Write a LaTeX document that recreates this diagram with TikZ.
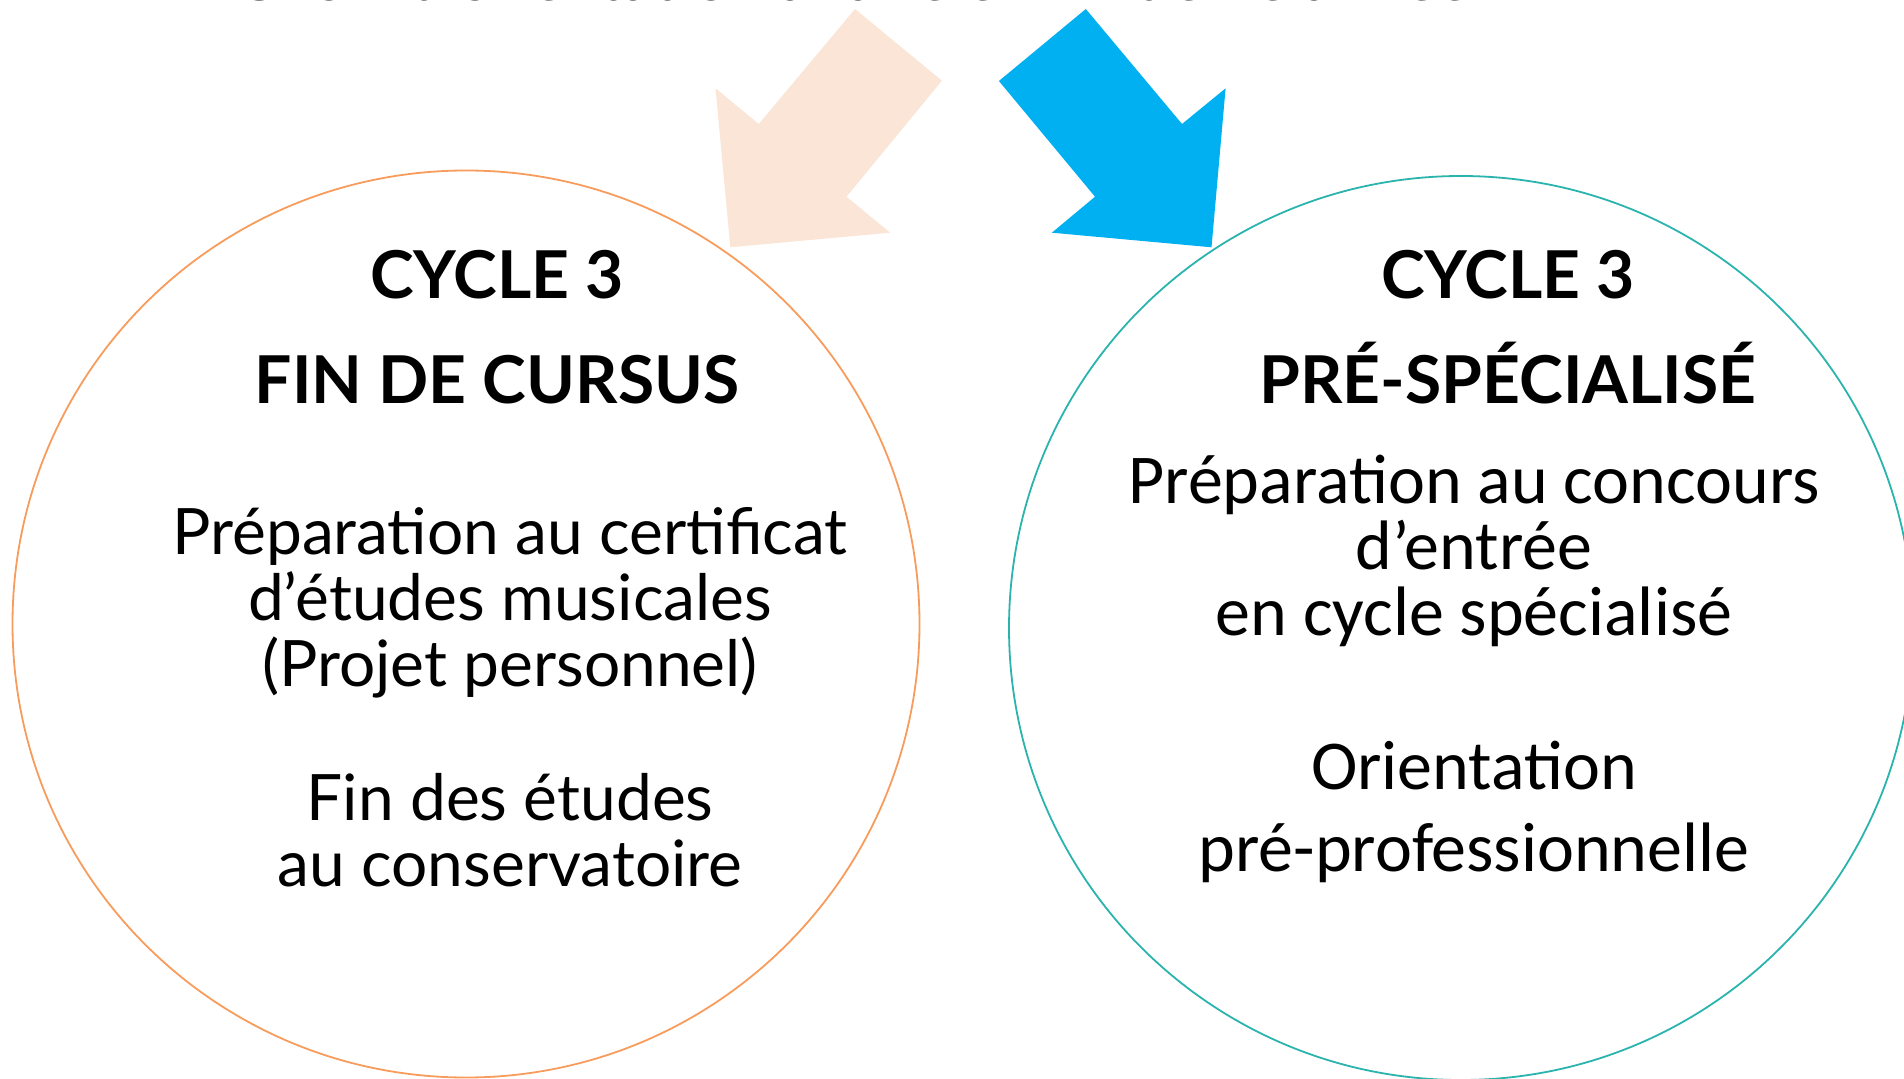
\documentclass[tikz,border=0pt]{standalone}
\usepackage{fontspec}
\setmainfont{Carlito}
\newfontfamily\twfont{Lato}
\definecolor{peach}{HTML}{FBE5D6}
\definecolor{skyblue}{HTML}{00B0F0}
\definecolor{ringorange}{HTML}{F79C5C}
\definecolor{ringteal}{HTML}{2BB3AE}
\begin{document}
\begin{tikzpicture}[x=0.5pt,y=-0.5pt]
		\tikzstyle{ring}=[circle,draw,line width=0.9pt,inner sep=0pt]
		\tikzstyle{head}=[anchor=base,font=\twfont\bfseries\fontsize{33}{33}\selectfont]
		\tikzstyle{lefttxt}=[anchor=base,align=center,font=\twfont\fontsize{32}{33}\selectfont]
		\tikzstyle{righttxt}=[anchor=base,align=center,font=\fontsize{35}{33}\selectfont]
		\useasboundingbox (0,0) rectangle (1904,1079);
		% title, cut at the top edge
		\node[anchor=base,font=\twfont\bfseries\fontsize{31}{31}\selectfont] (title) at (853,1) {Choix d'orientation à faire en fin de 2e année};
		% arrows
		\fill[peach] (855,9) -- (941.9,80.7) -- (846.5,196.7) -- (890.1,232.7) -- (730.3,247.3) -- (715.5,88.3) -- (758.8,124) -- cycle;
		\fill[skyblue] (1085.8,9) -- (998.9,81) -- (1095,196.7) -- (1051.8,232.7) -- (1211.5,247.3) -- (1225.6,88.3) -- (1182,124) -- cycle;
		% circles
		\node[ring,ringorange,minimum size=453.5pt] (c_1) at (466,624) {};
		\node[ring,ringteal,minimum size=452pt] (c_2) at (1461,628) {};
		% left circle (base = last line)
		\node[head] (c_1_a) at (497,299) {CYCLE 3};
		\node[head] (c_1_b) at (497,404) {FIN DE CURSUS};
		\node[lefttxt] (c_1_c) at (510,686) {Préparation au certificat\\d’études musicales\\(Projet personnel)};
		\node[lefttxt] (c_1_d) at (510,886) {Fin des études\\au conservatoire};
		% right circle
		\node[head] (c_2_a) at (1508,299) {CYCLE 3};
		\node[head] (c_2_b) at (1508,404) {PRÉ-SPÉCIALISÉ};
		\node[righttxt] (c_2_c) at (1474,635) {Préparation au concours\\d’entrée\\en cycle spécialisé};
		\node[righttxt,font=\fontsize{35}{41}\selectfont] (c_2_d) at (1474,871) {Orientation\\pré-professionnelle};
	\end{tikzpicture}
\end{document}
